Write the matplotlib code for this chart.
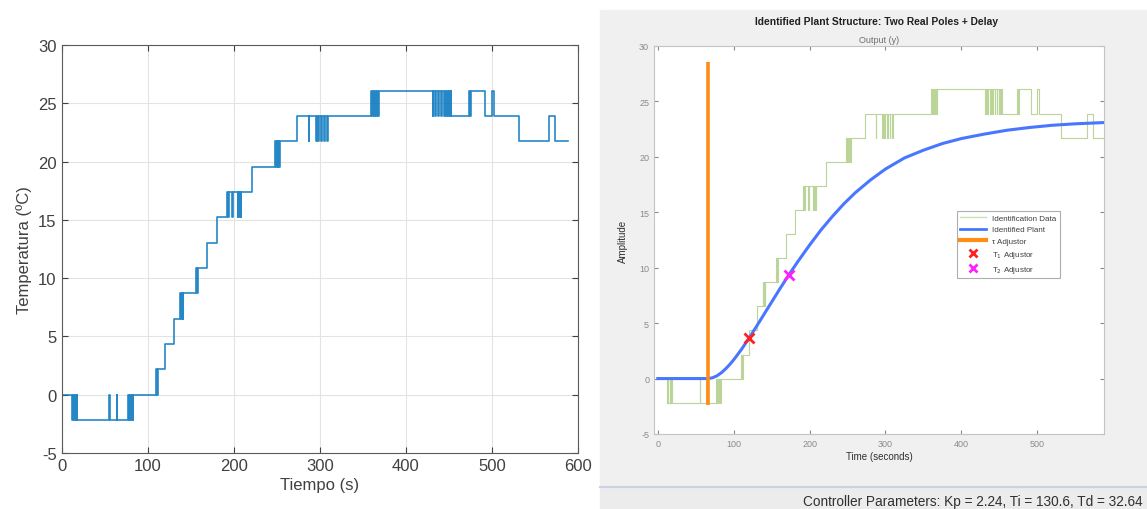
import matplotlib
matplotlib.use('Agg')
import matplotlib.pyplot as plt
from matplotlib.patches import Rectangle
from matplotlib.lines import Line2D

plt.rcParams['font.family'] = ['Liberation Sans', 'DejaVu Sans']
plt.rcParams['axes.unicode_minus'] = False

# measured temperature, as (time of change, new value) -> drawn with steps-post
tiempo = [0, 12, 13, 14, 15.5, 16.5, 17.5, 18.5, 55, 56, 64, 65,
          77, 78, 79.5, 80.5, 81.5, 82.5, 83.5,
          110, 111, 112, 120, 130.5,
          138, 139, 140, 140.8, 141.5,
          156, 157, 158, 169, 180.5,
          192, 193, 194, 198.5, 199.5, 204.5, 205.5, 206.5, 207.5, 208.3, 209,
          221,
          248, 249, 250, 251, 252, 253, 254,
          273, 287, 288, 295.5, 296.5, 298.5, 299.5, 302, 303, 305.5, 306.5, 308.5, 309.5,
          360, 361, 362, 363, 364, 365, 366.5, 367.5, 368.5,
          431, 432, 434, 435, 437.5, 438.5, 441, 442, 444, 445, 446.5, 447.5, 449, 450, 451, 452, 453,
          473, 474.5, 476, 492, 500, 502,
          531, 566, 573, 588]
temperatura = [0, -2.17, 0, -2.17, 0, -2.17, 0, -2.17, 0, -2.17, 0, -2.17,
               0, -2.17, 0, -2.17, 0, -2.17, 0,
               2.17, 0, 2.17, 4.35, 6.52,
               8.70, 6.52, 8.70, 6.52, 8.70,
               10.87, 8.70, 10.87, 13.04, 15.22,
               17.39, 15.22, 17.39, 15.22, 17.39, 15.22, 17.39, 15.22, 17.39, 15.22, 17.39,
               19.57,
               21.74, 19.57, 21.74, 19.57, 21.74, 19.57, 21.74,
               23.91, 21.74, 23.91, 21.74, 23.91, 21.74, 23.91, 21.74, 23.91, 21.74, 23.91, 21.74, 23.91,
               26.09, 23.91, 26.09, 23.91, 26.09, 23.91, 26.09, 23.91, 26.09,
               23.91, 26.09, 23.91, 26.09, 23.91, 26.09, 23.91, 26.09, 23.91, 26.09, 23.91, 26.09, 23.91, 26.09, 23.91, 26.09, 23.91,
               26.09, 23.91, 26.09, 23.91, 26.09, 23.91,
               21.74, 23.91, 21.74, 21.74]

# identified plant response
modelo_t = [0, 66, 72, 78, 84, 90, 96, 102, 110, 120, 130, 140, 150, 160, 173,
            185, 200, 215, 230, 245, 260, 280, 300, 325, 350, 375, 400, 430,
            460, 490, 520, 550, 590]
modelo_y = [0, 0, 0.07, 0.25, 0.54, 0.92, 1.36, 1.87, 2.61, 3.62, 4.70, 5.80,
            6.90, 8.00, 9.39, 10.60, 12.04, 13.40, 14.62, 15.75, 16.75, 17.9,
            18.9, 19.9, 20.6, 21.2, 21.65, 22.05, 22.4, 22.65, 22.85, 22.98, 23.1]

tau_t = [66.5, 66.5]
tau_y = [-2.4, 28.6]
t1_t, t1_y = 120, 3.62
t2_t, t2_y = 173, 9.35

xticks_izq = [0, 100, 200, 300, 400, 500, 600]
xticks_der = [0, 100, 200, 300, 400, 500]
yticks = [-5, 0, 5, 10, 15, 20, 25, 30]

W, H = 1147, 510
fig = plt.figure(figsize=(W / 100, H / 100), dpi=100)

# gray app panel on the right side + status bar
fig.add_artist(Rectangle((600 / W, 1 - 488 / H), 547 / W, 477 / H,
                         transform=fig.transFigure, color='#f0f0f0', zorder=0))
fig.add_artist(Rectangle((600 / W, 0), 547 / W, 1 - 489 / H,
                         transform=fig.transFigure, color='#ececec', zorder=0))
fig.add_artist(Line2D([600 / W, 1], [1 - 488 / H] * 2, transform=fig.transFigure,
                      color='#c9d3e3', lw=1.5, zorder=1))
fig.text(1143 / W, 1 - 502 / H,
         'Controller Parameters: Kp = 2.24, Ti = 130.6, Td = 32.64',
         ha='right', va='center', fontsize=9.8, color='#303030')

# ---- left: measured data
ax1 = fig.add_axes([61.5 / W, 1 - 454 / H, (578 - 61.5) / W, (454 - 46) / H])
ax1.plot(tiempo, temperatura, drawstyle='steps-post', color='#0072BD', lw=1.2, alpha=0.85)
ax1.set_xlim(0, 600)
ax1.set_ylim(-5, 30)
ax1.set_xticks(xticks_izq)
ax1.set_yticks(yticks)
ax1.grid(True, color='#e3e3e3', lw=0.8)
ax1.tick_params(direction='in', top=True, right=True, labelsize=12,
                colors='#404040', length=4)
for s in ax1.spines.values():
    s.set_color('#5a5a5a')
ax1.set_xlabel('Tiempo (s)', fontsize=12, color='#404040', labelpad=3)
ax1.set_ylabel('Temperatura (ºC)', fontsize=12, color='#404040', labelpad=4)

# ---- right: identification tool
ax2 = fig.add_axes([654 / W, 1 - 435 / H, 450 / W, 388 / H])
ax2.plot(tiempo, temperatura, drawstyle='steps-post', color='#77AC30', lw=0.8, alpha=0.5)
ax2.plot(modelo_t, modelo_y, color='#4876ff', lw=2.2)
ax2.plot(tau_t, tau_y, color='#ff8c14', lw=2.6, solid_capstyle='butt')
ax2.plot([t1_t], [t1_y], 'x', color='#ff2020', ms=7, mew=2)
ax2.plot([t2_t], [t2_y], 'x', color='#ff20ff', ms=7, mew=2)
ax2.set_xlim(-5, 588)
ax2.set_ylim(-5, 30)
ax2.set_xticks(xticks_der)
ax2.set_yticks(yticks)
ax2.tick_params(direction='in', top=True, right=True, labelsize=6.5,
                colors='#8a8a8a', length=3)
for s in ax2.spines.values():
    s.set_color('#c4c4c4')
ax2.set_xlabel('Time (seconds)', fontsize=7, color='#303030', labelpad=2)
ax2.set_ylabel('Amplitude', fontsize=7, color='#303030', labelpad=8)
ax2.set_title('Output (y)', fontsize=6.5, color='#707070', pad=3)
fig.text(877 / W, 1 - 22 / H, 'Identified Plant Structure: Two Real Poles + Delay',
         ha='center', va='center', fontsize=7.4, fontweight='bold', color='#202020')

handles = [Line2D([], [], color='#c9e2b3', lw=1),
           Line2D([], [], color='#4876ff', lw=2),
           Line2D([], [], color='#ff8c14', lw=3),
           Line2D([], [], color='#ff2020', marker='x', ls='none', ms=6, mew=2),
           Line2D([], [], color='#ff20ff', marker='x', ls='none', ms=6, mew=2)]
labels = ['Identification Data', 'Identified Plant', 'τ Adjustor',
          'T$_1$ Adjustor', 'T$_2$ Adjustor']
leg = ax2.legend(handles, labels, loc='upper left', bbox_to_anchor=(0.673, 0.575),
                 borderaxespad=0, fontsize=5.8, fancybox=False, frameon=True,
                 handlelength=3.2, labelspacing=0.5, borderpad=0.4)
leg.get_frame().set_edgecolor('#9a9a9a')
leg.get_frame().set_linewidth(0.8)
for t in leg.get_texts():
    t.set_color('#404040')

fig.savefig('out.png', dpi=100)
